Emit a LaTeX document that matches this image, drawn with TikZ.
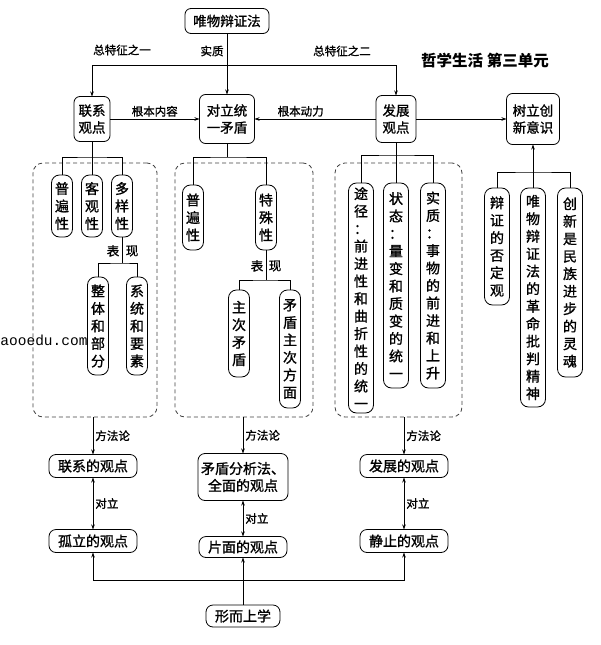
\documentclass[tikz,border=0pt]{standalone}
\usepackage{fontspec}
\setmainfont{Noto Sans CJK SC}
\newfontfamily\heavy[FakeBold=1.2]{Noto Sans CJK SC}
\newfontfamily\wmfont{Liberation Mono}
\usepackage{tikz}
\usetikzlibrary{arrows.meta}

\begin{document}
\begin{tikzpicture}[x=1pt,y=-1pt,line width=0.8pt,>={Stealth[length=5pt,width=3.5pt]},
	box/.style={draw,rounded corners=6pt,inner xsep=4pt,inner ysep=5pt,outer sep=0pt,align=center,font=\heavy\fontsize{13.5}{17}\selectfont},
	vbox/.style={draw,rounded corners=8pt,inner xsep=3.5pt,inner ysep=4pt,outer sep=0pt,anchor=north,align=center,minimum width=21pt,minimum height=#1,font=\heavy\fontsize{14}{17.5}\selectfont},
	bbox/.style={draw,rounded corners=7pt,inner xsep=3pt,inner ysep=3pt,outer sep=0pt,align=center,minimum width=88pt,minimum height=23pt,font=\heavy\fontsize{14}{17}\selectfont},
	dbox/.style={draw=black!75,dash pattern=on 4pt off 3pt,rounded corners=10pt,inner sep=0pt,outer sep=0pt},
	lab/.style={inner sep=2pt,font=\heavy\fontsize{11.5}{13}\selectfont}]

\useasboundingbox (0,0) rectangle (600,645);

\node[dbox,minimum width=124pt,minimum height=254pt] (d1) at (95,290) {};
\node[dbox,minimum width=138pt,minimum height=254pt] (d2) at (244,290) {};
\node[dbox,minimum width=127pt,minimum height=254pt] (d3) at (398.5,290) {};

\node[box,minimum width=84pt,minimum height=25pt] (wb) at (227,21) {唯物辩证法};
\node[box,minimum width=36pt,minimum height=45pt] (lx) at (92,119) {联系\\观点};
\node[box,minimum width=55pt,minimum height=49pt] (dl) at (227,119) {对立统\\一矛盾};
\node[box,minimum width=40pt,minimum height=47pt] (fz) at (396,119) {发展\\观点};
\node[box,minimum width=53pt,minimum height=51pt] (sl) at (533,119) {树立创\\新意识};

\node[font=\bfseries\fontsize{15.5}{17}\selectfont] (ttl) at (485,61) {哲学生活 第三单元};

\coordinate (tb) at (227,65);
\draw[->] (wb) -- (dl);
\draw[->] (tb) -| (lx);
\draw[->] (tb) -| (fz);
\node[lab] (t1) at (122,50) {总特征之一};
\node[lab] (t2) at (212,51) {实质};
\node[lab] (t3) at (342,51) {总特征之二};

\draw[->] (lx) -- (dl) node[lab,midway,above] (t4) {根本内容};
\draw[->] (fz) -- (dl) node[lab,pos=0.62,above] (t5) {根本动力};
\draw[->] (fz) -- (sl);

\node[vbox=62pt] (lp) at (62,175) {普\\遍\\性};
\node[vbox=62pt] (lk) at (92,175) {客\\观\\性};
\node[vbox=62pt] (ld) at (122,175) {多\\样\\性};
\node[vbox=98pt] (lz) at (98,277) {整\\体\\和\\部\\分};
\node[vbox=98pt] (lt) at (137,277) {系\\统\\和\\要\\素};

\coordinate (lb) at (92,157);
\draw (lx) -- (lb);
\draw (lp.north) |- (lb) -| (ld.north);
\draw (lk) -- (lb);
\coordinate (lb2) at (122,263);
\draw (ld) -- (lb2);
\draw (lz.north) |- (lb2) -| (lt.north);
\node[lab,font=\heavy\fontsize{12.5}{13}\selectfont] (lb3) at (113,251) {表};
\node[lab,font=\heavy\fontsize{12.5}{13}\selectfont] (lb4) at (132,251) {现};

\node[vbox=65pt] (dp) at (193,185) {普\\遍\\性};
\node[vbox=65pt] (dt) at (266,185) {特\\殊\\性};
\node[vbox=87pt] (dz) at (239,290) {主\\次\\矛\\盾};
\node[vbox=118pt] (dm) at (290,290) {矛\\盾\\主\\次\\方\\面};

\coordinate (db) at (227,157);
\draw (dl) -- (db);
\draw (dp.north) |- (db) -| (dt.north);
\coordinate (db2) at (266,280);
\draw (dt) -- (db2);
\draw (dz.north) |- (db2) -| (dm.north);
\node[lab,font=\heavy\fontsize{12.5}{13}\selectfont] (db3) at (257,266) {表};
\node[lab,font=\heavy\fontsize{12.5}{13}\selectfont] (db4) at (275,266) {现};

\node[vbox=230pt,minimum width=25pt] (ft) at (361,183) {途\\径\\：\\前\\进\\性\\和\\曲\\折\\性\\的\\统\\一};
\node[vbox=205pt,minimum width=25pt] (fs) at (396,183) {状\\态\\：\\量\\变\\和\\质\\变\\的\\统\\一};
\node[vbox=205pt,minimum width=25pt] (fq) at (433,183) {实\\质\\：\\事\\物\\的\\前\\进\\和\\上\\升};

\coordinate (fb) at (396,155);
\draw (fz) -- (fb);
\draw (ft.north) |- (fb) -| (fq.north);
\draw (fs) -- (fb);

\node[vbox=117pt,minimum width=25pt] (sf) at (497,188) {辩\\证\\的\\否\\定\\观};
\node[vbox=219pt,minimum width=25pt] (sj) at (533,188) {唯\\物\\辩\\证\\法\\的\\革\\命\\批\\判\\精\\神};
\node[vbox=189pt,minimum width=25pt] (sc) at (570,188) {创\\新\\是\\民\\族\\进\\步\\的\\灵\\魂};

\coordinate (sb) at (533,172);
\draw[->] (sb) -- (sl);
\draw (sf.north) |- (sb) -| (sc.north);
\draw (sj) -- (sb);

\node[bbox] (lg) at (93,466) {联系的观点};
\node[bbox] (gl) at (93,541) {孤立的观点};
\node[bbox,minimum height=47pt] (mf) at (243,477) {矛盾分析法、\\全面的观点};
\node[bbox,minimum height=21pt] (pm) at (243,547) {片面的观点};
\node[bbox,minimum width=74pt,minimum height=22pt] (xs) at (243,616) {形而上学};
\node[bbox] (fg) at (404,466) {发展的观点};
\node[bbox] (jz) at (404,541) {静止的观点};

\draw[->] (d1.south -| lg) -- (lg) node[lab,midway,right] (m1) {方法论};
\draw[->] (d2.south -| mf) -- (mf) node[lab,midway,right] (m2) {方法论};
\draw[->] (d3.south -| fg) -- (fg) node[lab,midway,right] (m3) {方法论};

\draw[<->] (lg) -- (gl) node[lab,midway,right] (o1) {对立};
\draw[<->] (mf) -- (pm) node[lab,midway,right] (o2) {对立};
\draw[<->] (fg) -- (jz) node[lab,midway,right] (o3) {对立};

\coordinate (bb) at (243,580);
\draw[->] (xs) -- (pm);
\draw[->] (bb) -| (gl);
\draw[->] (bb) -| (jz);

\node[font=\wmfont\fontsize{14.5}{15}\selectfont,inner sep=0pt] (wm) at (44,340) {aooedu.com};

\end{tikzpicture}
\end{document}
